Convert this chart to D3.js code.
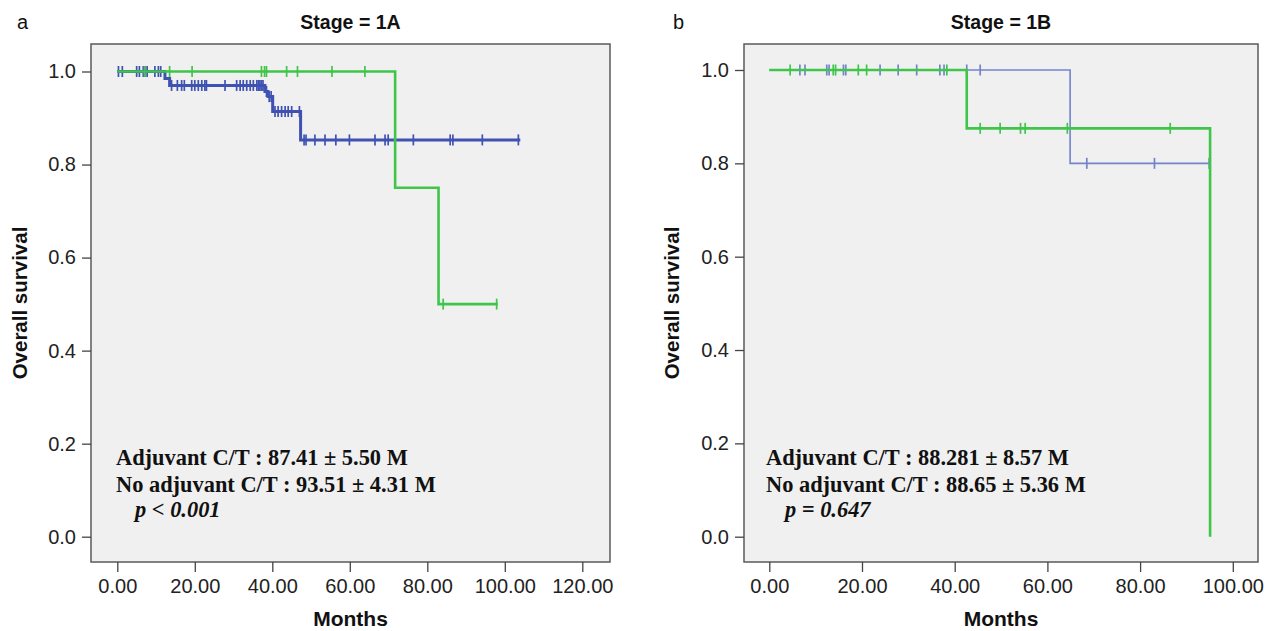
<!DOCTYPE html>
<html><head><meta charset="utf-8">
<script src="https://cdn.jsdelivr.net/npm/d3@7"></script>
<style>body{margin:0;background:#fff;} svg{display:block}</style>
</head><body>
<svg id="c" width="1272" height="631"></svg>
<script>
// ---------- data ----------
const xTicksA = [0, 20, 40, 60, 80, 100, 120];
const xTicksB = [0, 20, 40, 60, 80, 100];
const yTicks = [0, 0.2, 0.4, 0.6, 0.8, 1.0];

// Panel a (Stage = 1A)
const aAdjDropTimes = [71.7, 82.9];
const aAdjDropSurv  = [0.75, 0.5];
const aAdjEnd = 98.2;
const aAdjCensor = [7, 13.5, 19.3, 37.2, 38.0, 38.5, 43.7, 46.5, 55.4, 63.9, 84.1, 97.9];

const aNoDropTimes = [12.3, 13.5, 38.1, 38.9, 40.1, 47.3];
const aNoDropSurv  = [0.985, 0.97, 0.957, 0.946, 0.914, 0.853];
const aNoEnd = 104;
const aNoCensor = [0.3, 1.3, 5, 5.7, 6.7, 7.1, 7.7, 9.7, 10.6, 11.2,
  14, 15.5, 16.6, 17.3, 19.2, 20, 20.9, 21.8, 22.6, 23, 27.8, 30.8, 31.7, 32.5, 33.4, 34.3, 35.1,
  36, 36.4, 36.8, 37.2, 37.6, 38.5, 39.2, 39.7,
  40.7, 41.5, 42.4, 43.3, 44.1, 45, 47,
  48.2, 48.7, 51, 53.6, 56.4, 59.9, 66.5, 69.1, 69.9, 76.4, 85.9, 86.6, 94.2, 103.5];

// Panel b (Stage = 1B)
const bAdjDropTimes = [42.6, 95.1];
const bAdjDropSurv  = [0.875, 0.0];
const bAdjEnd = 95.1;
const bAdjCensor = [4.5, 13.8, 14.3, 19.2, 21, 38.3, 45.5, 49.8, 54.2, 55.2, 64.3, 86.5];

const bNoDropTimes = [64.9];
const bNoDropSurv  = [0.8];
const bNoEnd = 95.3;
const bNoCensor = [6.6, 7.7, 12.4, 12.9, 16, 16.5, 23.9, 27.8, 31.8, 36.8, 37.7, 42.6, 45.5,
  68.5, 83.1, 94.9];

const titles = ["Stage = 1A", "Stage = 1B"];
const panelLetters = ["a", "b"];
const annA = ["Adjuvant C/T : 87.41 \u00b1 5.50 M", "No adjuvant C/T : 93.51 \u00b1 4.31 M", "p < 0.001"];
const annB = ["Adjuvant C/T : 88.281 \u00b1 8.57 M", "No adjuvant C/T : 88.65 \u00b1 5.36 M", "p = 0.647"];

// ---------- drawing ----------
const GREEN = "#3ec54a";
const BLUE = "#3f52b2";
const BLUE_LIGHT = "#7383cc";
const svg = d3.select("#c");
const SANS = "Liberation Sans, Arial, sans-serif";

const panels = [
  {
    frame: {x0: 91, x1: 610, y0: 44, y1: 562},
    xDomain: [0, 120], xRange: [117.3, 582.3], yRange: [536.7, 71.5],
    xTicks: xTicksA, title: titles[0], letter: panelLetters[0], letterX: 17,
    ylabX: 27, ann: annA, annX: 116, pX: 135,
    curves: [
      {times: aNoDropTimes, surv: aNoDropSurv, end: aNoEnd, censor: aNoCensor, color: BLUE, w: 3},
      {times: aAdjDropTimes, surv: aAdjDropSurv, end: aAdjEnd, censor: aAdjCensor, color: GREEN, w: 2.6}
    ]
  },
  {
    frame: {x0: 744, x1: 1258, y0: 44, y1: 562},
    xDomain: [0, 100], xRange: [769.3, 1232.8], yRange: [536.7, 70],
    xTicks: xTicksB, title: titles[1], letter: panelLetters[1], letterX: 673,
    ylabX: 679, ann: annB, annX: 766, pX: 785,
    curves: [
      {times: bNoDropTimes, surv: bNoDropSurv, end: bNoEnd, censor: bNoCensor, color: BLUE_LIGHT, w: 1.6},
      {times: bAdjDropTimes, surv: bAdjDropSurv, end: bAdjEnd, censor: bAdjCensor, color: GREEN, w: 2.6}
    ]
  }
];

function survAt(c, t) {
  const i = d3.bisectRight(c.times, t);
  return i === 0 ? 1 : c.surv[i - 1];
}

panels.forEach(p => {
  const f = p.frame;
  const x = d3.scaleLinear().domain(p.xDomain).range(p.xRange);
  const y = d3.scaleLinear().domain([0, 1]).range(p.yRange);
  const g = svg.append("g");

  g.append("rect").attr("x", f.x0).attr("y", f.y0)
    .attr("width", f.x1 - f.x0).attr("height", f.y1 - f.y0)
    .attr("fill", "#f0f0f0").attr("stroke", "#5a5a5a").attr("stroke-width", 1.5);

  // y axis
  const ya = g.append("g").attr("transform", `translate(${f.x0},0)`)
    .call(d3.axisLeft(y).tickValues(yTicks).tickFormat(d3.format(".1f")).tickSize(9).tickPadding(6));
  ya.select(".domain").remove();
  ya.selectAll("line").attr("stroke", "#444").attr("stroke-width", 1.3);
  ya.selectAll("text").attr("font-family", SANS).attr("font-size", 20).attr("fill", "#222");

  // x axis
  const xa = g.append("g").attr("transform", `translate(0,${f.y1})`)
    .call(d3.axisBottom(x).tickValues(p.xTicks).tickFormat(d3.format(".2f")).tickSize(10).tickPadding(7));
  xa.select(".domain").remove();
  xa.selectAll("line").attr("stroke", "#444").attr("stroke-width", 1.3);
  xa.selectAll("text").attr("font-family", SANS).attr("font-size", 20).attr("fill", "#222");

  // curves
  p.curves.forEach(c => {
    const pts = [[0, 1]];
    c.times.forEach((t, i) => pts.push([t, c.surv[i]]));
    pts.push([c.end, c.surv[c.surv.length - 1]]);
    const line = d3.line().x(d => x(d[0])).y(d => y(d[1])).curve(d3.curveStepAfter);
    g.append("path").attr("d", line(pts)).attr("fill", "none")
      .attr("stroke", c.color).attr("stroke-width", c.w);
    g.selectAll(null).data(c.censor).enter().append("line")
      .attr("x1", d => x(d)).attr("x2", d => x(d))
      .attr("y1", d => y(survAt(c, d)) - 5.5).attr("y2", d => y(survAt(c, d)) + 5.5)
      .attr("stroke", c.color).attr("stroke-width", 1.7);
  });

  // titles
  const cx = (f.x0 + f.x1) / 2;
  g.append("text").attr("x", cx).attr("y", 29).attr("text-anchor", "middle")
    .attr("font-family", SANS).attr("font-weight", "bold")
    .attr("font-size", 19.5).attr("fill", "#111").text(p.title);
  g.append("text").attr("x", p.letterX).attr("y", 29)
    .attr("font-family", SANS).attr("font-size", 20).attr("fill", "#111").text(p.letter);
  g.append("text").attr("x", cx).attr("y", 626).attr("text-anchor", "middle")
    .attr("font-family", SANS).attr("font-weight", "bold")
    .attr("font-size", 21).attr("fill", "#111").text("Months");
  g.append("text").attr("transform", `translate(${p.ylabX},${(f.y0 + f.y1) / 2}) rotate(-90)`)
    .attr("text-anchor", "middle")
    .attr("font-family", SANS).attr("font-weight", "bold")
    .attr("font-size", 20.5).attr("fill", "#111").text("Overall survival");

  // annotation
  const af = "Liberation Serif, Times New Roman, serif";
  g.append("text").attr("x", p.annX).attr("y", 465).attr("font-family", af)
    .attr("font-weight", "bold").attr("font-size", 22.4).attr("fill", "#111").text(p.ann[0]);
  g.append("text").attr("x", p.annX).attr("y", 491.7).attr("font-family", af)
    .attr("font-weight", "bold").attr("font-size", 22.4).attr("fill", "#111").text(p.ann[1]);
  g.append("text").attr("x", p.pX).attr("y", 516.7).attr("font-family", af)
    .attr("font-weight", "bold").attr("font-style", "italic").attr("font-size", 22.4)
    .attr("fill", "#111").text(p.ann[2]);
});
</script>
</body></html>
